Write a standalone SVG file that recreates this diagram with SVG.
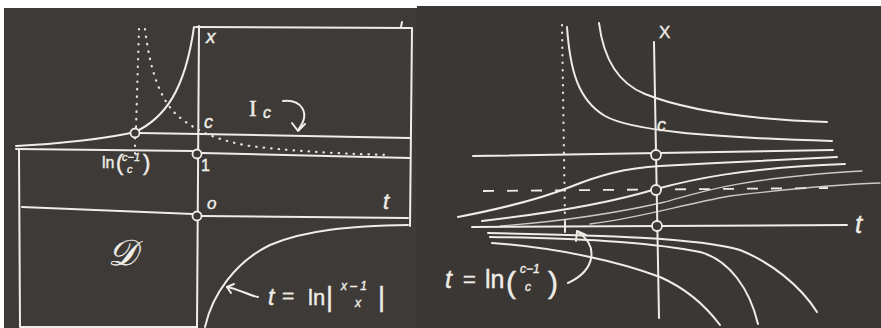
<svg xmlns="http://www.w3.org/2000/svg" width="881" height="328" viewBox="0 0 881 328">
<style>
.c{fill:none;stroke:#efede7;stroke-width:2;stroke-linecap:round;stroke-linejoin:round}
.f{fill:none;stroke:#e6e3dc;stroke-width:1.3;stroke-linecap:round;opacity:.85}
.d{fill:none;stroke:#e6e3dc;stroke-width:2.2;stroke-linecap:round;stroke-dasharray:0.5 7}
.o{fill:#3c3835;stroke:#efede7;stroke-width:1.8}
text{fill:#efede7;stroke:#efede7;stroke-width:0.4;font-family:"Liberation Sans","DejaVu Sans",sans-serif}
.i{font-style:italic}
</style>
<rect width="881" height="328" fill="#ffffff"/>
<g id="left-panel">
<rect x="4" y="8" width="413" height="320" fill="#3e3a37"/>
<g id="left-connectors">
<path class="c" d="M199,26 L197,328"/>
<path class="c" d="M196,27 L412,28 L410,226"/>
<path class="c" d="M402,22 L401,27"/>
<path class="c" d="M19,150 L20,327 L197,327"/>
<path class="c" d="M16,149 L193,151"/>
<path class="c" d="M202,153 L410,158"/>
<path class="c" d="M139,133 L200,134 L410,138"/>
<path class="c" d="M16,146 C60,144 110,138 135,132 C165,118 185,90 194,27"/>
<path class="c" d="M22,207 L193,214"/>
<path class="c" d="M202,216 L408,218"/>
<path class="c" d="M205,327 C212,295 235,262 270,245 C305,230 350,226 408,225"/>
<path class="d" d="M139,29 L136,128"/>
<path class="d" d="M135,138 L135,158"/>
<path class="d" d="M145,29 C150,70 160,100 178,116 C195,130 215,140 250,146 C300,152 350,154 390,155"/>
<path class="c" d="M283,101 C300,99 312,112 298,130"/>
<path class="c" d="M292,123 L298,131 L305,124"/>
<path class="c" d="M258,297 C248,295 238,289 227,287"/>
<path class="c" d="M234,284 L227,287 L231,293"/>
</g>
<g id="left-points">
<circle class="o" cx="135" cy="133" r="4.5"/>
<circle class="o" cx="197" cy="154" r="4.5"/>
<circle class="o" cx="197" cy="216" r="4.5"/>
</g>
<g id="left-labels">
<text class="i" x="206" y="43" font-size="19">x</text>
<text class="i" x="204" y="128" font-size="18">c</text>
<text x="249" y="116" font-size="23" style="font-family:'Liberation Serif',serif">I</text>
<text class="i" x="263" y="118" font-size="16">c</text>
<text x="102" y="168" font-size="16">ln</text>
<text x="116" y="170" font-size="22">(</text>
<text class="i" x="122" y="161" font-size="11">c−1</text>
<text class="i" x="127" y="173" font-size="11">c</text>
<text x="143" y="170" font-size="22">)</text>
<text x="201" y="171" font-size="16">1</text>
<text class="i" x="207" y="209" font-size="17">o</text>
<text class="i" x="383" y="209" font-size="22">t</text>
<text class="i" x="108" y="265" font-size="36" style="font-family:'DejaVu Serif','DejaVu Sans',serif">𝒟</text>
<text class="i" x="268" y="305" font-size="23">t</text>
<text x="282" y="303" font-size="21">=</text>
<text x="308" y="305" font-size="22">ln</text>
<text x="326" y="306" font-size="27">|</text>
<text class="i" x="341" y="290" font-size="12">x – 1</text>
<text class="i" x="355" y="307" font-size="12">x</text>
<text x="378" y="306" font-size="27">|</text>
</g>
</g>
<g id="right-panel">
<rect x="417" y="6" width="464" height="322" fill="#3b3734"/>
<g id="right-connectors">
<path class="c" d="M654,42 L659,318"/>
<path class="c" d="M473,156 L833,150"/>
<path class="c" d="M472,227 L847,225"/>
<path class="c" d="M483,191 L828,188" style="stroke-dasharray:11 13;stroke-linecap:butt;stroke-width:1.8"/>
<path class="d" d="M562,25 L565,221"/>
<path class="c" d="M565,222 L565,232"/>
<path class="c" d="M599,23 C603,55 615,82 645,94 C680,108 740,119 827,122"/>
<path class="c" d="M567,27 C570,70 578,100 605,116 C630,130 700,137 832,141"/>
<path class="c" d="M458,217 C510,207 545,197 570,187 C600,175 625,168 660,166 C720,163 790,159 837,157"/>
<path class="c" d="M482,221 C560,212 620,200 656,189 C690,180 740,168 845,164"/>
<path class="f" d="M500,226 C580,220 630,210 665,202 C700,192 740,178 862,171"/>
<path class="f" d="M590,224 C640,218 680,205 730,196 C780,190 830,185 880,183"/>
<path class="c" d="M488,233 C600,235 700,238 740,250 C770,262 800,285 817,312"/>
<path class="c" d="M490,237 C580,238 650,242 700,252 C730,260 750,290 758,324"/>
<path class="c" d="M492,243 C560,248 620,262 660,277 C685,288 705,305 720,325"/>
<path class="c" d="M568,283 C596,270 598,246 579,233"/>
<path class="c" d="M576,241 L577,231 L586,235"/>
</g>
<g id="right-points">
<circle class="o" cx="656" cy="155" r="5"/>
<circle class="o" cx="656" cy="190" r="5"/>
<circle class="o" cx="657" cy="226" r="5"/>
</g>
<g id="right-labels">
<text x="659" y="38" font-size="17">X</text>
<text class="i" x="657" y="131" font-size="18">c</text>
<text class="i" x="855" y="233" font-size="26">t</text>
<text class="i" x="445" y="288" font-size="25">t</text>
<text x="463" y="287" font-size="22">=</text>
<text x="485" y="288" font-size="25">ln</text>
<text x="506" y="293" font-size="30">(</text>
<text class="i" x="520" y="273" font-size="12">c−1</text>
<text class="i" x="525" y="291" font-size="12">c</text>
<text x="548" y="293" font-size="30">)</text>
</g>
</g>
</svg>
